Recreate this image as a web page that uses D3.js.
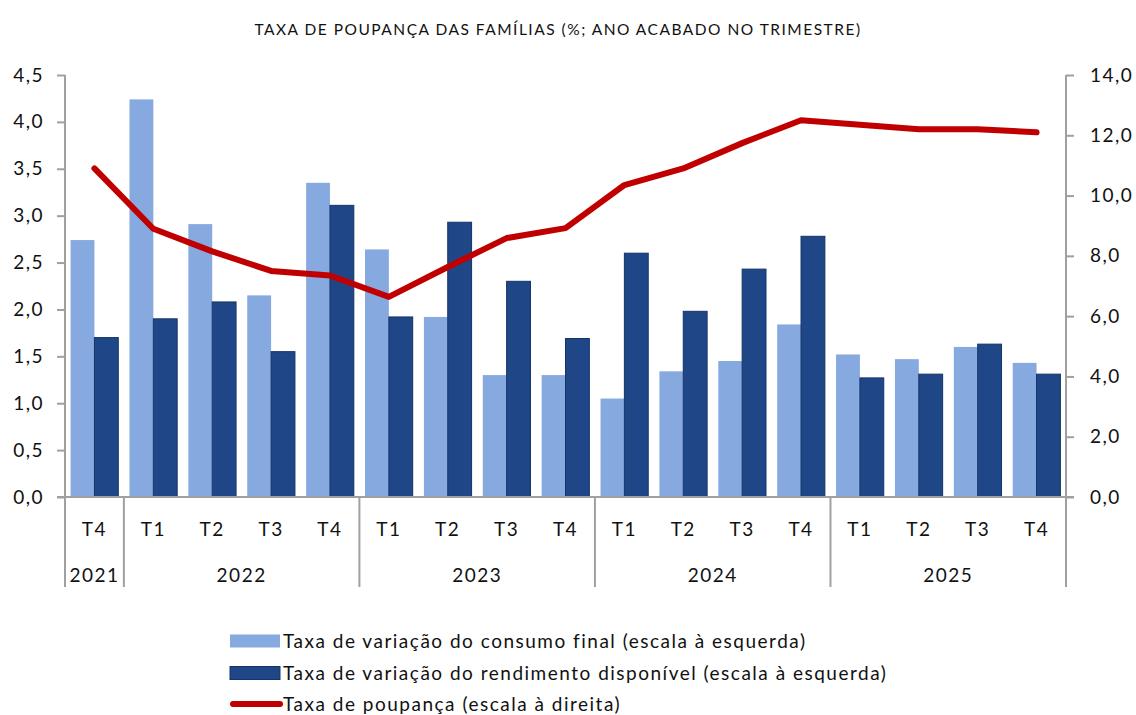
<!DOCTYPE html>
<html>
<head>
<meta charset="utf-8">
<script src="https://cdn.jsdelivr.net/npm/d3@7"></script>
<style>
  body { margin: 0; background: #fff; }
  text { font-family: Lato, "Open Sans", sans-serif; fill: #111; }
</style>
</head>
<body>
<div id="chart"></div>
<script>
const width = 1136;
const height = 715;

// data
const quarters = ["T4", "T1", "T2", "T3", "T4", "T1", "T2", "T3", "T4", "T1", "T2", "T3", "T4", "T1", "T2", "T3", "T4"];
const years = [
  { label: "2021", from: 0, to: 1 },
  { label: "2022", from: 1, to: 5 },
  { label: "2023", from: 5, to: 9 },
  { label: "2024", from: 9, to: 13 },
  { label: "2025", from: 13, to: 17 }
];
const consumo = [2.74, 4.24, 2.91, 2.15, 3.35, 2.64, 1.92, 1.30, 1.30, 1.05, 1.34, 1.45, 1.84, 1.52, 1.47, 1.60, 1.43];
const rendimento = [1.70, 1.90, 2.08, 1.55, 3.11, 1.92, 2.93, 2.30, 1.69, 2.60, 1.98, 2.43, 2.78, 1.27, 1.31, 1.63, 1.31];
const poupanca = [10.9, 8.9, 8.15, 7.5, 7.35, 6.64, 7.63, 8.59, 8.92, 10.35, 10.9, 11.74, 12.5, 12.35, 12.2, 12.2, 12.1];
const leftTicks = [0, 0.5, 1, 1.5, 2, 2.5, 3, 3.5, 4, 4.5];
const rightTicks = [0, 2, 4, 6, 8, 10, 12, 14];
const legendLabels = [
  "Taxa de variação do consumo final (escala à esquerda)",
  "Taxa de variação do rendimento disponível (escala à esquerda)",
  "Taxa de poupança (escala à direita)"
];

const colLight = "#86a9e0";
const colDark = "#1f4788";
const colRed = "#c00000";
const axisCol = "#a0a0a0";

const plotL = 65, plotR = 1066, plotT = 75, plotB = 497;

const svg = d3.select("#chart").append("svg")
  .attr("width", width)
  .attr("height", height);

const x = d3.scaleBand()
  .domain(d3.range(quarters.length))
  .range([plotL, plotR])
  .paddingInner(0.19)
  .paddingOuter(0.095);

const sub = d3.scaleBand()
  .domain([0, 1])
  .range([0, x.bandwidth()]);

const yL = d3.scaleLinear().domain([0, 4.5]).range([plotB, plotT]);
const yR = d3.scaleLinear().domain([0, 14]).range([plotB, plotT]);

const fmt1 = d => d3.format(".1f")(d).replace(".", ",");

// title
svg.append("text")
  .attr("x", 558).attr("y", 35)
  .attr("text-anchor", "middle")
  .style("font-size", "15.5px")
  .style("letter-spacing", "1.5px")
  .text("TAXA DE POUPANÇA DAS FAMÍLIAS (%; ANO ACABADO NO TRIMESTRE)");

// bars
svg.append("g").selectAll("rect")
  .data(consumo)
  .join("rect")
  .attr("x", (d, i) => x(i) + sub(0))
  .attr("y", d => yL(d))
  .attr("width", sub.bandwidth())
  .attr("height", d => yL(0) - yL(d))
  .attr("fill", colLight);

svg.append("g").selectAll("rect")
  .data(rendimento)
  .join("rect")
  .attr("x", (d, i) => x(i) + sub(1))
  .attr("y", d => yL(d))
  .attr("width", sub.bandwidth())
  .attr("height", d => yL(0) - yL(d))
  .attr("fill", colDark)
  .attr("stroke", "#143466")
  .attr("stroke-width", 1);

// axes
const axL = svg.append("g")
  .attr("transform", `translate(${plotL},0)`)
  .call(d3.axisLeft(yL).tickValues(leftTicks).tickFormat(fmt1).tickSize(8).tickPadding(13));
axL.select(".domain").remove();
axL.selectAll("line").attr("stroke", axisCol).attr("stroke-width", 2);
axL.selectAll("text").style("font-size", "19px").style("letter-spacing", "1.5px").attr("fill", "#111");

const axR = svg.append("g")
  .attr("transform", `translate(${plotR},0)`)
  .call(d3.axisRight(yR).tickValues(rightTicks).tickFormat(fmt1).tickSize(8).tickPadding(16));
axR.select(".domain").remove();
axR.selectAll("line").attr("stroke", axisCol).attr("stroke-width", 2);
axR.selectAll("text").style("font-size", "19px").style("letter-spacing", "1.5px").attr("fill", "#111");

svg.append("line")
  .attr("x1", plotL).attr("x2", plotL).attr("y1", plotT).attr("y2", 587)
  .attr("stroke", axisCol).attr("stroke-width", 2);
svg.append("line")
  .attr("x1", plotR).attr("x2", plotR).attr("y1", plotT).attr("y2", 587)
  .attr("stroke", axisCol).attr("stroke-width", 2);
svg.append("line")
  .attr("x1", plotL - 8).attr("x2", plotR + 8).attr("y1", yL(0)).attr("y2", yL(0))
  .attr("stroke", axisCol).attr("stroke-width", 2);

// quarter labels
svg.append("g").selectAll("text")
  .data(quarters)
  .join("text")
  .attr("x", (d, i) => x(i) + x.bandwidth() / 2)
  .attr("y", 536)
  .attr("text-anchor", "middle")
  .style("font-size", "19px")
  .style("letter-spacing", "1.5px")
  .text(d => d);

// year groups
const edge = i => i === 0 ? plotL : (i === quarters.length ? plotR : x(i) - x.step() * x.paddingInner() / 2);
svg.append("g").selectAll("line")
  .data(years.slice(1))
  .join("line")
  .attr("x1", d => edge(d.from)).attr("x2", d => edge(d.from))
  .attr("y1", yL(0)).attr("y2", 587)
  .attr("stroke", axisCol).attr("stroke-width", 2);

svg.append("g").selectAll("text")
  .data(years)
  .join("text")
  .attr("x", d => (edge(d.from) + edge(d.to)) / 2)
  .attr("y", 582)
  .attr("text-anchor", "middle")
  .style("font-size", "19px")
  .style("letter-spacing", "1.5px")
  .text(d => d.label);

// savings line
const line = d3.line()
  .x((d, i) => x(i) + x.bandwidth() / 2)
  .y(d => yR(d));
svg.append("path")
  .datum(poupanca)
  .attr("d", line)
  .attr("fill", "none")
  .attr("stroke", colRed)
  .attr("stroke-width", 6)
  .attr("stroke-linejoin", "round")
  .attr("stroke-linecap", "round");

// legend
const lg = svg.append("g").attr("transform", "translate(230,0)");
const rows = [641, 673, 704];
lg.append("rect").attr("x", 0).attr("y", rows[0] - 6.5).attr("width", 50).attr("height", 13).attr("fill", colLight);
lg.append("rect").attr("x", 0).attr("y", rows[1] - 6.5).attr("width", 50).attr("height", 13).attr("fill", colDark).attr("stroke", "#143466");
lg.append("line").attr("x1", 3).attr("x2", 50).attr("y1", rows[2]).attr("y2", rows[2])
  .attr("stroke", colRed).attr("stroke-width", 6).attr("stroke-linecap", "round");
lg.selectAll("text.lbl")
  .data(legendLabels)
  .join("text")
  .attr("class", "lbl")
  .attr("x", 53)
  .attr("y", (d, i) => rows[i] + 7)
  .style("font-size", "19px")
  .style("letter-spacing", "1.5px")
  .text(d => d);
</script>
</body>
</html>
